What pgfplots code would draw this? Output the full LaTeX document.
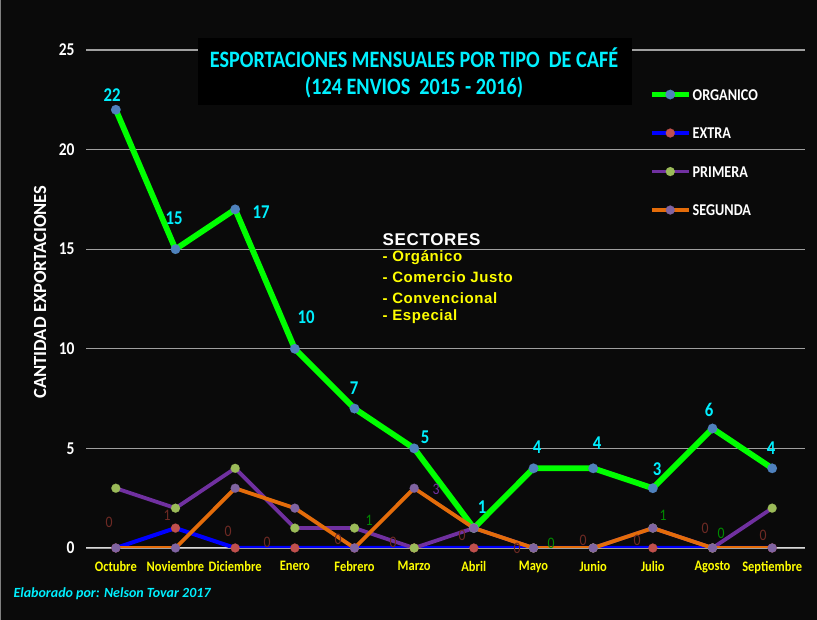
\documentclass[border=0pt]{standalone}
\usepackage{pgfplots}
\pgfplotsset{compat=1.18}
\usepackage{fontspec}
\setmainfont[FakeStretch=0.86]{Carlito}
\newfontfamily\carlito{Carlito}
\newfontfamily\arialf[LetterSpace=4]{Liberation Sans}
\definecolor{bgblack}{HTML}{0A0A0A}
\definecolor{cyanT}{HTML}{00F0FF}
\definecolor{yel}{HTML}{FFFF00}
\definecolor{lgreen}{HTML}{00FF00}
\definecolor{orgmark}{HTML}{4F81BD}
\definecolor{extraline}{HTML}{0000FF}
\definecolor{extramark}{HTML}{C0504D}
\definecolor{primline}{HTML}{7030A0}
\definecolor{primmark}{HTML}{9BBB59}
\definecolor{segline}{HTML}{E46C0A}
\definecolor{segmark}{HTML}{8064A2}
\definecolor{dred}{HTML}{6E2A24}
\definecolor{dgreen}{HTML}{008A00}
\definecolor{gridgray}{HTML}{A0A0A0}
\begin{document}
\begin{tikzpicture}[x=1pt,y=1pt]
\fill[bgblack] (0,0) rectangle (817,620);
\useasboundingbox (0,0) rectangle (817,620);
\draw[gray, line width=1pt] (0.5,0) -- (0.5,620);
\begin{axis}[
  at={(86pt,72pt)}, anchor=south west, scale only axis,
  width=719pt, height=498pt,
  xmin=-0.5, xmax=11.55, ymin=0, ymax=25,
  axis line style={draw=none},
  ytick={0,5,...,25}, xtick={0,...,11},
  xticklabels={Octubre,Noviembre,Diciembre,Enero,Febrero,Marzo,Abril,Mayo,Junio,Julio,Agosto,Septiembre},
  major tick length=0pt,
  /pgf/number format/assume math mode=true,
  ymajorgrids, grid style={color=gridgray, line width=1.3pt},
  yticklabel style={text=white, font=\fontsize{18}{18}\selectfont\bfseries, xshift=-8pt},
  xticklabel style={text=yel, font=\fontsize{14.5}{15}\selectfont\bfseries, yshift=-10pt},
  legend image code/.code={\draw[mark repeat=2,mark phase=2,#1] plot coordinates {(0pt,0pt) (18.5pt,0pt) (37pt,0pt)};},
  legend style={at={(axis cs:8.93,23.1)}, anchor=north west, draw=none, fill=none,
    text=white, font=\fontsize{16.5}{16}\selectfont\bfseries, row sep=25.5pt, inner sep=0pt,
    nodes={inner sep=1pt, text height=11pt, text depth=0pt}},
  legend cell align=left,
]
\draw[white!85!black, line width=1.5pt] (axis cs:-0.5,0) -- (axis cs:11.55,0);
\addplot[color=lgreen, line width=5.8pt, mark=*, mark size=4.8pt, mark options={fill=orgmark, draw=orgmark, line width=0.1pt}]
  coordinates {(0,22) (1,15) (2,17) (3,10) (4,7) (5,5) (6,1) (7,4) (8,4) (9,3) (10,6) (11,4)};
\addlegendentry{ORGANICO}
\addplot[color=extraline, line width=4pt, mark=*, mark size=4.5pt, mark options={fill=extramark, draw=extramark, line width=0.1pt}]
  coordinates {(0,0) (1,1) (2,0) (3,0) (4,0) (5,0) (6,0) (7,0) (8,0) (9,0) (10,0) (11,0)};
\addlegendentry{EXTRA}
\addplot[color=primline, line width=3.8pt, mark=*, mark size=4.5pt, mark options={fill=primmark, draw=primmark, line width=0.1pt}]
  coordinates {(0,3) (1,2) (2,4) (3,1) (4,1) (5,0) (6,1) (7,0) (8,0) (9,1) (10,0) (11,2)};
\addlegendentry{PRIMERA}
\addplot[color=segline, line width=3.8pt, mark=*, mark size=4.5pt, mark options={fill=segmark, draw=segmark, line width=0.1pt}]
  coordinates {(0,0) (1,0) (2,3) (3,2) (4,0) (5,3) (6,1) (7,0) (8,0) (9,1) (10,0) (11,0)};
\addlegendentry{SEGUNDA}
\end{axis}
% title box
\fill[black] (198,515) rectangle (632,582);
\node[text=cyanT, font=\fontsize{23.5}{24}\selectfont\bfseries] at (414,562) {ESPORTACIONES MENSUALES POR TIPO\ \ DE CAFÉ};
\node[text=cyanT, font=\fontsize{23.5}{24}\selectfont\bfseries] at (414,532) {(124 ENVIOS\ \ 2015 - 2016)};
% y label
\node[rotate=90, text=white, font=\carlito\bfseries\fontsize{18.5}{19}\selectfont] at (40,328) {CANTIDAD EXPORTACIONES};
% sectores
\node[anchor=west, text=white, font=\arialf\bfseries\fontsize{17}{17}\selectfont] at (379,380) {SECTORES};
\begin{scope}[every node/.style={anchor=west, text=yel, font=\arialf\bfseries\fontsize{15}{15}\selectfont}]
\node at (379,362) {- Orgánico};
\node at (379,343) {- Comercio Justo};
\node at (379,322) {- Convencional};
\node at (379,303) {- Especial};
\end{scope}
% data labels organico
\begin{scope}[every node/.style={text=cyanT, font=\fontsize{19.5}{20}\selectfont\bfseries, inner sep=0pt}]
\node at (112,525) {22};
\node at (174,402) {15};
\node at (261,408) {17};
\node at (306,303) {10};
\node at (354,232) {7};
\node at (425,183) {5};
\node at (482,113) {1};
\node at (537,173) {4};
\node at (597,177) {4};
\node at (657,151) {3};
\node at (709,210) {6};
\node at (771,172) {4};
\end{scope}
% small labels
\begin{scope}[every node/.style={text=dred, font=\fontsize{16}{16}\selectfont, inner sep=0pt}]
\node at (109,98) {0};
\node at (167,105) {1};
\node at (228,89) {0};
\node at (267,78) {0};
\node at (338,81) {0};
\node at (393,78) {0};
\node at (462,85) {0};
\node at (517,72) {0};
\node at (583,80) {0};
\node at (637,80) {0};
\node at (705,92) {0};
\node at (763,85) {0};
\end{scope}
\begin{scope}[every node/.style={text=dgreen, font=\fontsize{16}{16}\selectfont, inner sep=0pt}]
\node at (369,100) {1};
\node at (551,77) {0};
\node at (663,105) {1};
\node at (721,87) {0};
\end{scope}
\node[text=primline, font=\fontsize{16}{16}\selectfont, inner sep=0pt] at (436,131) {3};
% footer
\node[anchor=west, text=cyanT, font=\carlito\bfseries\itshape\fontsize{14}{15}\selectfont] at (10,26) {Elaborado por: Nelson Tovar 2017};
\end{tikzpicture}
\end{document}
